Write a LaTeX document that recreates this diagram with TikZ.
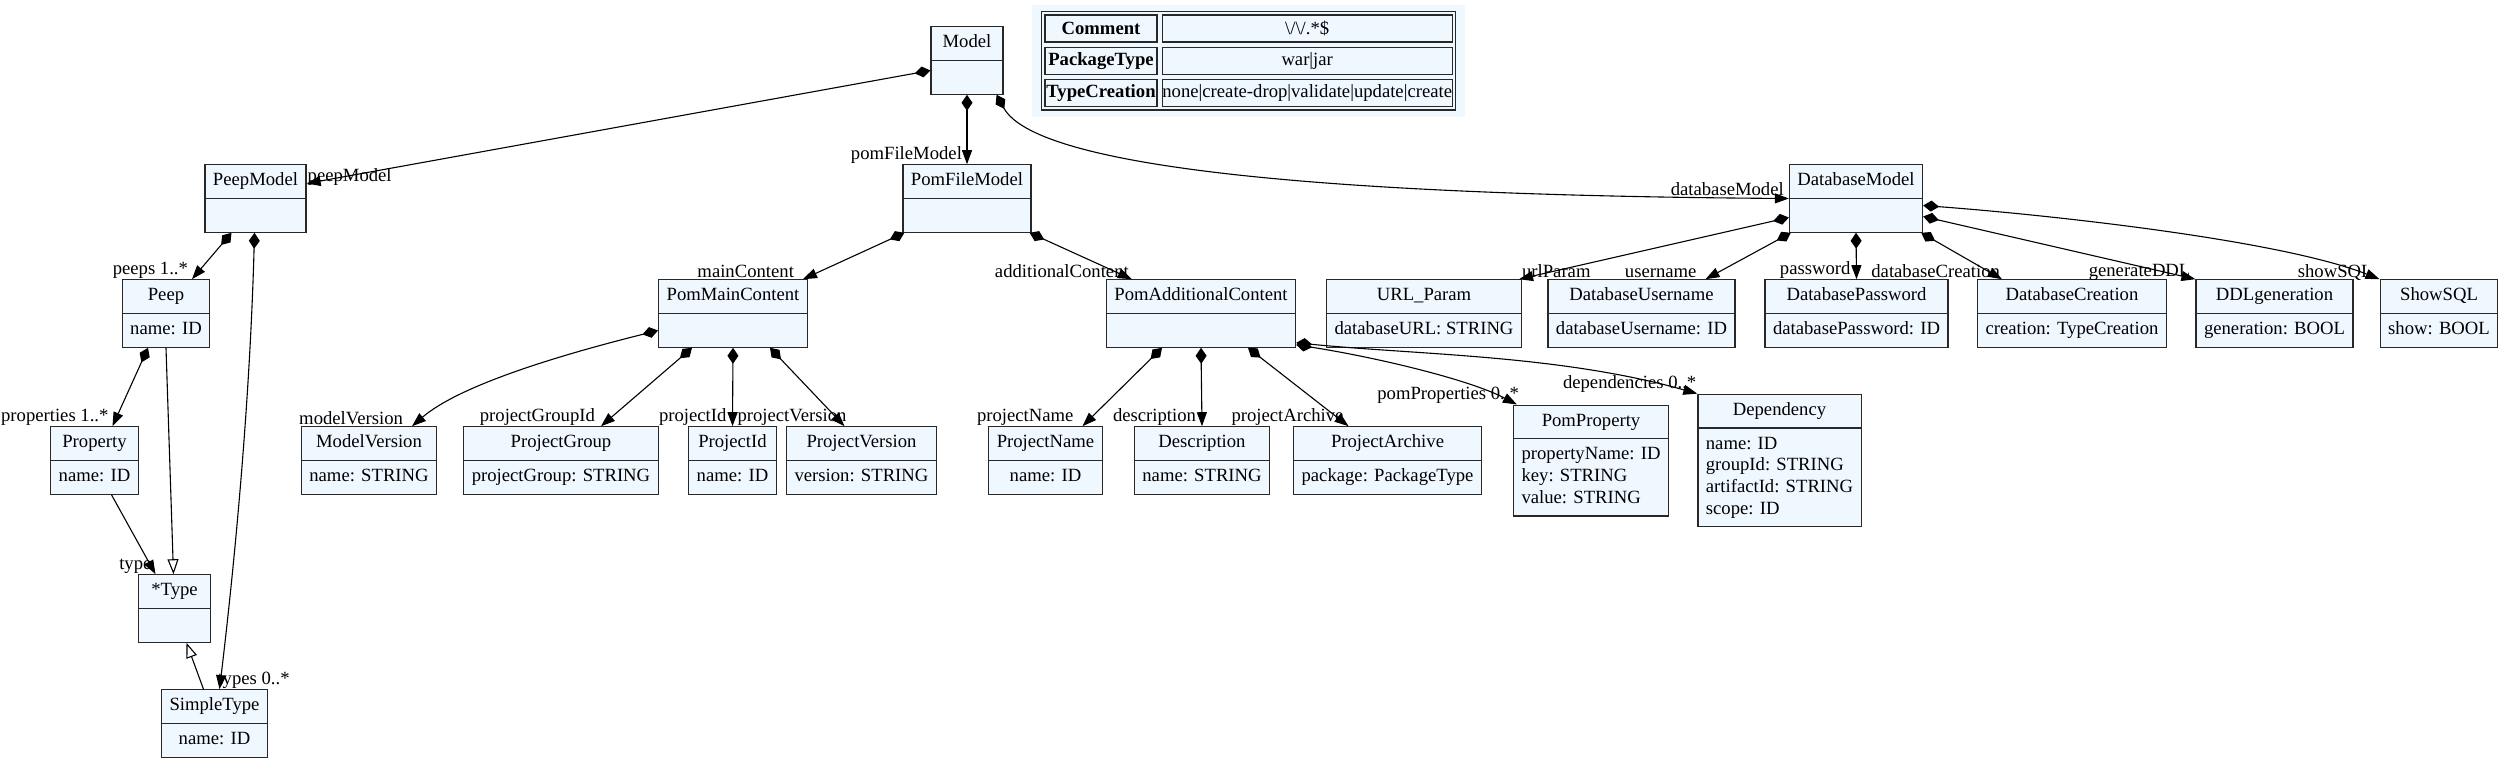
\documentclass[tikz,border=0pt]{standalone}
\usepackage{fontspec}
\setmainfont{Liberation Serif}
\usepackage{tikz}
\usetikzlibrary{shapes.multipart, arrows.meta, positioning, fit, backgrounds}
\definecolor{clsfill}{RGB}{240, 248, 255}
\definecolor{clsline}{RGB}{40, 40, 40}
\newcommand{\gvsize}{\fontsize{18.67pt}{21.7pt}\selectfont}
\tikzset{
    cls/.style={rectangle split, rectangle split parts=2, draw=clsline,
                fill=clsfill, line width=1.2pt, inner xsep=8pt,
                inner ysep=5.4pt, minimum width=72pt, font=\gvsize},
    comp/.style={line width=1.1pt,
                 {Diamond[length=16pt, width=11pt]}-{Triangle[length=14pt, width=10pt]}},
    assoc/.style={line width=1.1pt, -{Triangle[length=14pt, width=10pt]}},
    gen/.style={line width=1.1pt, -{Triangle[open, length=15pt, width=11pt]}},
    hl/.style={pos=1, font=\gvsize, inner sep=0.5pt},
    tcell/.style={draw=clsline, line width=1.2pt, minimum height=27pt,
                  inner sep=0pt, font=\gvsize},
    tkey/.style={tcell, minimum width=112pt, font=\gvsize\bfseries},
    tval/.style={tcell, minimum width=290pt},
}

\begin{document}
\begin{tikzpicture}[x=1pt, y=-1pt]
    \useasboundingbox (0,0) rectangle (2502,762);

    \node[cls] (model) at (967,60.5) {\strut Model\nodepart{second}\strut};
    \node[cls] (peepmodel) at (255.5,198.5) {\strut PeepModel\nodepart{second}\strut};
    \node[cls] (pomfilemodel) at (967,198.5) {\strut PomFileModel\nodepart{second}\strut};
    \node[cls] (dbmodel) at (1856,198.5) {\strut DatabaseModel\nodepart{second}\strut};
    \node[cls] (peep) at (166,313.5) {\strut Peep\nodepart{second}\strut name: ID};
    \node[cls] (pommain) at (733,313.5) {\strut PomMainContent\nodepart{second}\strut};
    \node[cls] (pomadd) at (1201,313.5) {\strut PomAdditionalContent\nodepart{second}\strut};
    \node[cls] (urlparam) at (1424,313.5) {\strut URL\_Param\nodepart{second}\strut databaseURL: STRING};
    \node[cls] (dbuser) at (1641.5,313.5) {\strut DatabaseUsername\nodepart{second}\strut databaseUsername: ID};
    \node[cls] (dbpass) at (1856.5,313.5) {\strut DatabasePassword\nodepart{second}\strut databasePassword: ID};
    \node[cls] (dbcreation) at (2072,313.5) {\strut DatabaseCreation\nodepart{second}\strut creation: TypeCreation};
    \node[cls] (ddl) at (2274.5,313.5) {\strut DDLgeneration\nodepart{second}\strut generation: BOOL};
    \node[cls] (showsql) at (2439,313.5) {\strut ShowSQL\nodepart{second}\strut show: BOOL};
    \node[cls] (property) at (94.5,460.5) {\strut Property\nodepart{second}\strut name: ID};
    \node[cls] (modelversion) at (369,460.5) {\strut ModelVersion\nodepart{second}\strut name: STRING};
    \node[cls] (projectgroup) at (561,460.5) {\strut ProjectGroup\nodepart{second}\strut projectGroup: STRING};
    \node[cls] (projectid) at (732.5,460.5) {\strut ProjectId\nodepart{second}\strut name: ID};
    \node[cls] (projectversion) at (861.5,460.5) {\strut ProjectVersion\nodepart{second}\strut version: STRING};
    \node[cls] (projectname) at (1045.5,460.5) {\strut ProjectName\nodepart{second}\strut name: ID};
    \node[cls] (description) at (1202,460.5) {\strut Description\nodepart{second}\strut name: STRING};
    \node[cls] (projectarchive) at (1387.5,460.5) {\strut ProjectArchive\nodepart{second}\strut package: PackageType};
    \node[cls] (pomproperty) at (1591,460.5) {\strut PomProperty\nodepart{second}%
        \begin{tabular}{@{}l@{}}propertyName: ID\\key: STRING\\value: STRING\end{tabular}};
    \node[cls] (dependency) at (1779.5,460.5) {\strut Dependency\nodepart{second}%
        \begin{tabular}{@{}l@{}}name: ID\\groupId: STRING\\artifactId: STRING\\scope: ID\end{tabular}};
    \node[cls] (startype) at (174.5,608.5) {\strut *Type\nodepart{second}\strut};
    \node[cls] (simpletype) at (214.5,723.5) {\strut SimpleType\nodepart{second}\strut name: ID};

    \node[tkey] (kcomment) at (1101,28.5) {Comment};
    \node[tval, right=4pt of kcomment] (vcomment) {\textbackslash/\textbackslash/.*\$};
    \node[tkey, below=4pt of kcomment] (kpackage) {PackageType};
    \node[tval, right=4pt of kpackage] (vpackage) {war|jar};
    \node[tkey, below=4pt of kpackage] (kcreation) {TypeCreation};
    \node[tval, right=4pt of kcreation] (vcreation) {none|create-drop|validate|update|create};
    \node[draw=clsline, line width=1.2pt, inner sep=3pt, fit=(kcomment)(vcreation)] (enums) {};
    \begin{scope}[on background layer]
        \node[fill=clsfill, inner xsep=9pt, inner ysep=6pt, fit=(enums)] (enumsbg) {};
    \end{scope}

    \draw[comp] ([yshift=-10pt]model.west) -- ([yshift=15pt]peepmodel.east)
        node[hl, anchor=west, yshift=6pt] {peepModel};
    \draw[comp] (model.south) -- (pomfilemodel.north)
        node[hl, anchor=south east, xshift=-4pt] {pomFileModel};
    \draw[comp] ([xshift=-7pt]model.south east) .. controls (1035,165) and (1300,195) .. (dbmodel.west)
        node[hl, anchor=south east, xshift=-4pt, yshift=2pt] {databaseModel};

    \draw[comp] ([xshift=-24pt]peepmodel.south) -- ([xshift=26pt]peep.north)
        node[hl, anchor=south east, xshift=-3pt] {peeps 1..*};
    \draw[comp] ([xshift=-1pt]peepmodel.south) .. controls (250,400) and (235,560) .. ([xshift=5pt]simpletype.north)
        node[hl, anchor=south west, xshift=-3pt] {types 0..*};
    \draw[comp] ([xshift=-18pt]peep.south) -- ([xshift=18pt]property.north)
        node[hl, anchor=south east, xshift=-3pt] {properties 1..*};
    \draw[assoc] ([xshift=17pt]property.south) -- ([xshift=-19pt]startype.north)
        node[hl, anchor=south east, xshift=-3pt] {type};
    \draw[gen] (peep.south) -- ([xshift=-1pt]startype.north);
    \draw[gen] ([xshift=-11pt]simpletype.north) -- ([xshift=12pt]startype.south);

    \draw[comp] ([xshift=2pt]pomfilemodel.south west) -- ([xshift=-5pt]pommain.north east)
        node[hl, anchor=south east, xshift=-8pt] {mainContent};
    \draw[comp] ([xshift=-2pt]pomfilemodel.south east) -- ([xshift=26pt]pomadd.north west)
        node[hl, anchor=south east, xshift=-2pt] {additionalContent};

    \draw[comp] ([yshift=-17pt]pommain.west) .. controls (560,355) and (460,385) .. ([xshift=43pt]modelversion.north)
        node[hl, anchor=south east, xshift=-8pt] {modelVersion};
    \draw[comp] ([xshift=-41pt]pommain.south) -- ([xshift=40pt]projectgroup.north)
        node[hl, anchor=south east, xshift=-5pt] {projectGroupId};
    \draw[comp] (pommain.south) -- (projectid.north)
        node[hl, anchor=south east, xshift=-5pt] {projectId};
    \draw[comp] ([xshift=37pt]pommain.south) -- ([xshift=-17pt]projectversion.north)
        node[hl, anchor=south east, xshift=3pt] {projectVersion};

    \draw[comp] ([xshift=-39pt]pomadd.south) -- ([xshift=37pt]projectname.north)
        node[hl, anchor=south east, xshift=-8pt] {projectName};
    \draw[comp] (pomadd.south) -- (description.north)
        node[hl, anchor=south east, xshift=-5pt] {description};
    \draw[comp] ([xshift=47pt]pomadd.south) -- ([xshift=-39pt]projectarchive.north)
        node[hl, anchor=south east, xshift=-4pt] {projectArchive};
    \draw[comp] ([yshift=3pt]pomadd.south east) .. controls (1380,358) and (1470,380) .. ([xshift=4pt]pomproperty.north west)
        node[hl, anchor=south east, xshift=3pt] {pomProperties 0..*};
    \draw[comp] ([yshift=5pt]pomadd.south east) .. controls (1420,355) and (1560,355) .. (dependency.north west)
        node[hl, anchor=south east] {dependencies 0..*};

    \draw[comp] ([yshift=-19pt]dbmodel.west) -- ([xshift=-3pt]urlparam.north east)
        node[hl, anchor=south west, xshift=2pt] {urlParam};
    \draw[comp] ([xshift=2pt]dbmodel.south west) -- ([xshift=64pt]dbuser.north)
        node[hl, anchor=south east, xshift=-8pt] {username};
    \draw[comp] (dbmodel.south) -- (dbpass.north)
        node[hl, anchor=south east, xshift=-5pt] {password};
    \draw[comp] ([xshift=-2pt]dbmodel.south east) -- ([xshift=25pt]dbcreation.north west)
        node[hl, anchor=south east, xshift=-1pt] {databaseCreation};
    \draw[comp] ([yshift=-18pt]dbmodel.east) -- (ddl.north west)
        node[hl, anchor=south east, xshift=-4pt, yshift=-2pt] {generateDDL};
    \draw[comp] ([yshift=-7pt]dbmodel.east) .. controls (2050,215) and (2280,240) .. (showsql.north west)
        node[hl, anchor=south east, xshift=-6pt, yshift=-2pt] {showSQL};
\end{tikzpicture}
\end{document}
